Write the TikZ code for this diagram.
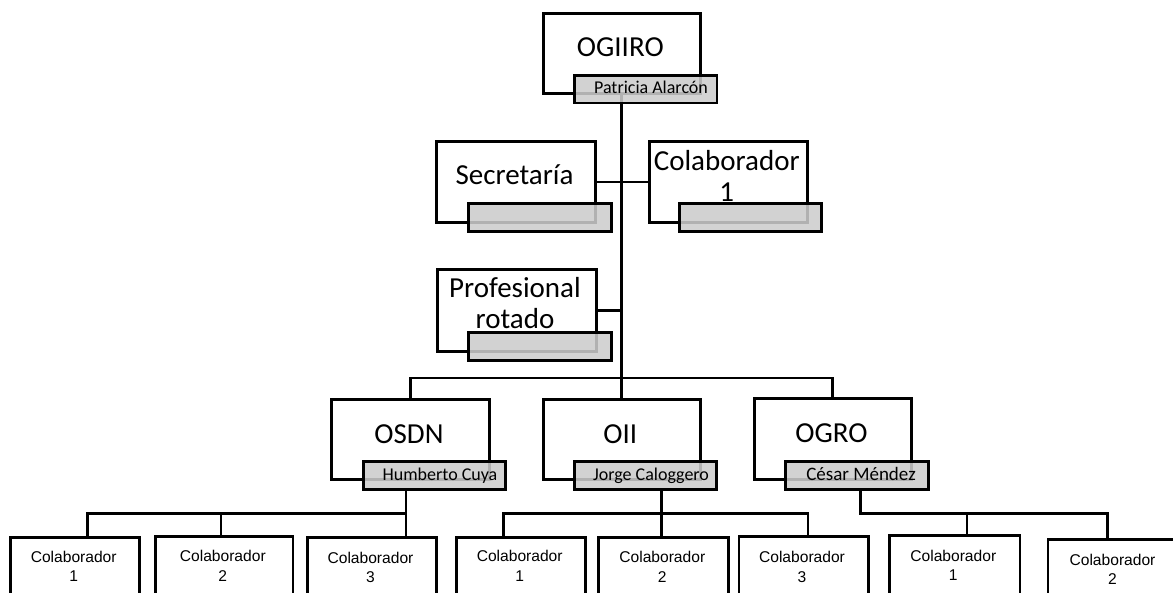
\documentclass[tikz,border=0pt]{standalone}
\usepackage{fontspec}
\setmainfont{Carlito}
\newfontfamily\arialf{Liberation Sans}
\pgfdeclarelayer{bg}
\pgfsetlayers{bg,main}
\tikzset{
 wbox/.style={draw=black, line width=2.9pt, fill=white, inner sep=0pt, anchor=north west, minimum height=81pt},
 gbox/.style={draw=black, line width=2.9pt, fill=black!20, fill opacity=0.87, draw opacity=1, inner sep=0pt, anchor=north west, minimum height=28pt},
 cbox/.style={draw=black, line width=2.6pt, fill=white, inner sep=0pt, anchor=north west, minimum height=80pt},
 conn/.style={line width=2.8pt},
 bigtxt/.style={anchor=base, inner sep=0pt, font=\fontsize{29}{31.5}\selectfont, align=center},
 gtxt/.style={anchor=base, inner sep=0pt, font=\fontsize{18}{20}\selectfont},
 ctxt/.style={anchor=base, inner sep=0pt, font=\arialf\fontsize{15.6}{19.5}\selectfont, align=center},
}
\begin{document}
\begin{tikzpicture}[x=1pt,y=-1pt]
\path[use as bounding box] (0,0) rectangle (1173,592);
\clip (0,0) rectangle (1173,592);
% white boxes
\node[wbox, minimum width=157.3pt, minimum height=80.3pt] (ogiiro) at (541.7,11.7) {};
\node[wbox, minimum width=159pt] (secr) at (435,140) {};
\node[wbox, minimum width=158.3pt] (colab) at (647.7,140) {};
\node[wbox, minimum width=159pt, minimum height=82pt] (prof) at (436,268) {};
\node[wbox, minimum width=158pt, minimum height=80pt] (osdn) at (330,398) {};
\node[wbox, minimum width=157.3pt, minimum height=80pt] (oii) at (541.7,398) {};
\node[wbox, minimum width=156.7pt] (ogro) at (753,397) {};
% gray boxes
\node[gbox, minimum width=142.5pt, minimum height=27.5pt] (ogiirog) at (573,74) {};
\node[gbox, minimum width=143.3pt] (secrg) at (466.7,202) {};
\node[gbox, minimum width=142pt] (colabg) at (678,202) {};
\node[gbox, minimum width=143.3pt] (profg) at (466.7,331) {};
\node[gbox, minimum width=142.3pt] (osdng) at (361.7,460) {};
\node[gbox, minimum width=142pt] (oiig) at (573,460) {};
\node[gbox, minimum width=143pt] (ogrog) at (784,460) {};
% bottom boxes
\node[cbox, minimum width=129.3pt] (b1) at (9,536) {};
\node[cbox, minimum width=137.7pt] (b2) at (154,535) {};
\node[cbox, minimum width=129pt] (b3) at (306,536) {};
\node[cbox, minimum width=129.3pt] (b4) at (455,536) {};
\node[cbox, minimum width=130pt] (b5) at (597.3,536) {};
\node[cbox, minimum width=129.3pt] (b6) at (737.7,535) {};
\node[cbox, minimum width=130.7pt] (b7) at (888,534.3) {};
\node[cbox, minimum width=131pt] (b8) at (1046.7,538.3) {};
% texts
\node[bigtxt] (t-ogiiro) at (620.3,56.7) {OGIIRO};
\node[bigtxt] (t-secr) at (514.5,184.3) {Secretaría};
\node[bigtxt] (t-colab) at (726.8,201.5) {Colaborador\\1};
\node[bigtxt] (t-prof) at (515,328.7) {Profesional\\rotado};
\node[bigtxt] (t-osdn) at (409,443.3) {OSDN};
\node[bigtxt] (t-oii) at (620.3,443.3) {OII};
\node[bigtxt] (t-ogro) at (831.4,442) {OGRO};
\node[gtxt] (t-pat) at (651,93.5) {Patricia Alarcón};
\node[gtxt] (t-hum) at (440,480) {Humberto Cuya};
\node[gtxt] (t-jor) at (651,480) {Jorge Caloggero};
\node[gtxt, font=\fontsize{19}{21}\selectfont] (t-ces) at (861,480) {César Méndez};
\node[ctxt] (t-b1) at (73.7,581.7) {Colaborador\\1};
\node[ctxt] (t-b2) at (222.8,581) {Colaborador\\2};
\node[ctxt] (t-b3) at (370.5,582.5) {Colaborador\\3};
\node[ctxt] (t-b4) at (519.7,581) {Colaborador\\1};
\node[ctxt] (t-b5) at (662.3,582.3) {Colaborador\\2};
\node[ctxt] (t-b6) at (802,582.3) {Colaborador\\3};
\node[ctxt] (t-b7) at (953.3,580.5) {Colaborador\\1};
\node[ctxt] (t-b8) at (1112.5,584.5) {Colaborador\\2};
% connectors
\begin{pgfonlayer}{bg}
\draw[conn] (ogiiro.south) -- (oii.north);
\draw[conn] (secr.east) -- (colab.west);
\draw[conn] (prof.east) -- (prof.east -| ogiiro.south);
\coordinate (bar3) at (0,378);
\draw[conn] (osdn.north) -- (osdn.north |- bar3) -- (ogro.north |- bar3) -- (ogro.north);
% OSDN group
\coordinate (jA) at (406,513.3);
\coordinate (ta1) at (87.7,513.3);
\coordinate (ta2) at (221,513.3);
\draw[conn] (jA |- osdng.south) -- (jA |- b3.north);
\draw[conn] (ta1 |- b1.north) -- (ta1) -- (jA);
\draw[conn] (ta2) -- (ta2 |- b2.north);
% OII group
\coordinate (jB) at (661.7,513.3);
\coordinate (tb1) at (503.3,513.3);
\coordinate (tb3) at (808,513.3);
\draw[conn] (jB |- oiig.south) -- (jB |- b5.north);
\draw[conn] (tb1 |- b4.north) -- (tb1) -- (tb3) -- (tb3 |- b6.north);
% OGRO group
\coordinate (jC) at (860.7,513.3);
\coordinate (tc1) at (967,513.3);
\coordinate (tc2) at (1107.7,513.3);
\draw[conn] (jC |- ogrog.south) -- (jC) -- (tc2) -- (tc2 |- b8.north);
\draw[conn] (tc1) -- (tc1 |- b7.north);
\end{pgfonlayer}
\end{tikzpicture}
\end{document}
